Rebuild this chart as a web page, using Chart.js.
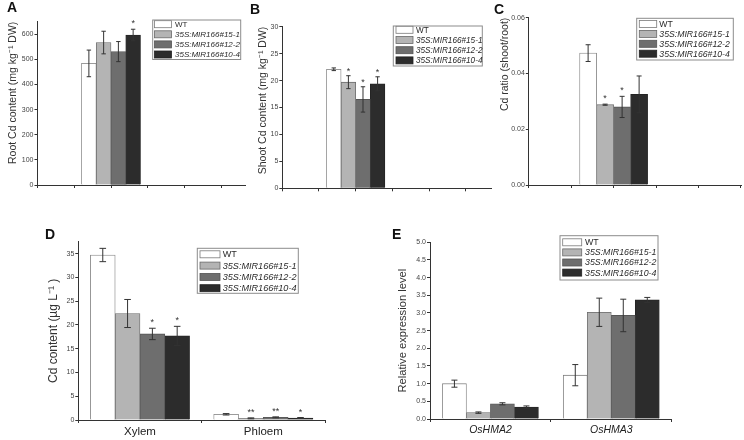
<!DOCTYPE html>
<html><head><meta charset="utf-8">
<script src="https://cdn.jsdelivr.net/npm/chart.js@4.4.1/dist/chart.umd.min.js"></script>
<style>
html,body{margin:0;padding:0;background:#fff;}
#wrap{position:relative;width:744px;height:440px;overflow:hidden;background:#fff;}
.panel{position:absolute;}
.panel canvas{display:block;}
.lbl{position:absolute;font-weight:bold;font-size:14px;line-height:1;color:#111;font-family:"Liberation Sans",Arial,sans-serif;}
</style></head><body>
<div id="wrap">
  <div class="panel" style="left:0;top:0;width:250px;height:215px"><canvas id="cA" width="250" height="215"></canvas></div>
  <div class="panel" style="left:250px;top:0;width:250px;height:215px"><canvas id="cB" width="250" height="215"></canvas></div>
  <div class="panel" style="left:496px;top:0;width:248px;height:215px"><canvas id="cC" width="248" height="215"></canvas></div>
  <div class="panel" style="left:0;top:215px;width:370px;height:225px"><canvas id="cD" width="370" height="225"></canvas></div>
  <div class="panel" style="left:370px;top:215px;width:374px;height:225px"><canvas id="cE" width="374" height="225"></canvas></div>
  <div class="lbl" style="left:7px;top:0px">A</div>
  <div class="lbl" style="left:250px;top:1.5px">B</div>
  <div class="lbl" style="left:494px;top:1.5px">C</div>
  <div class="lbl" style="left:45px;top:226.5px">D</div>
  <div class="lbl" style="left:392px;top:226.5px">E</div>
</div>
<script>
// ---------- data ----------
const seriesLabels = ['WT', '35S:MIR166#15-1', '35S:MIR166#12-2', '35S:MIR166#10-4'];
const singleGroupX = 1;

// Panel A: root Cd content (mg kg-1 DW)
const rootCd    = [484, 567, 531, 597];
const rootCdErr = [53, 45, 40, 23];
const rootCdSig = ['', '', '', '*'];

// Panel B: shoot Cd content (mg kg-1 DW)
const shootCd    = [22.1, 19.7, 16.5, 19.4];
const shootCdErr = [0.25, 1.2, 2.35, 1.3];
const shootCdSig = ['', '*', '*', '*'];

// Panel C: Cd ratio (shoot/root)
const cdRatio    = [0.0473, 0.0288, 0.0280, 0.0325];
const cdRatioErr = [0.0030, 0.0002, 0.0038, 0.0066];
const cdRatioSig = ['', '*', '*', ''];

// Panel D: Cd content (ug L-1) in xylem / phloem sap
const tissues = ['Xylem', 'Phloem'];
const sapWT    = [34.7, 1.2];   const sapWTErr    = [1.4, 0.15]; const sapWTSig    = ['', ''];
const sap15_1  = [22.4, 0.35];  const sap15_1Err  = [2.95, 0.1]; const sap15_1Sig  = ['', '**'];
const sap12_2  = [18.1, 0.56];  const sap12_2Err  = [1.2, 0.1];  const sap12_2Sig  = ['*', '**'];
const sap10_4  = [17.7, 0.42];  const sap10_4Err  = [2.0, 0.1];  const sap10_4Sig  = ['*', '*'];

// Panel E: relative expression level
const genes = ['OsHMA2', 'OsHMA3'];
const exWT    = [1.00, 1.24]; const exWTErr    = [0.10, 0.30];
const ex15_1  = [0.18, 3.02]; const ex15_1Err  = [0.02, 0.40];
const ex12_2  = [0.43, 2.93]; const ex12_2Err  = [0.03, 0.46];
const ex10_4  = [0.34, 3.37]; const ex10_4Err  = [0.03, 0.07];

// ---------- styles ----------
const FONT = '"Liberation Sans", Arial, sans-serif';
Chart.defaults.font.family = FONT;
const fills   = ['#ffffff', '#b4b4b4', '#6e6e6e', '#2c2c2c'];
const borders = ['#7a7a7a', '#6a6a6a', '#555555', '#222222'];

const errorBars = {
  id: 'errorBars',
  afterDatasetsDraw(chart, args, o) {
    const ctx = chart.ctx, ys = chart.scales.y;
    ctx.save();
    chart.data.datasets.forEach((ds, di) => {
      const meta = chart.getDatasetMeta(di);
      meta.data.forEach((el, i) => {
        const raw = ds.data[i];
        const v = (typeof raw === 'object') ? raw.y : raw;
        const e = ds.errors[i];
        const yt = ys.getPixelForValue(v + e), yb = ys.getPixelForValue(v - e);
        const cw = o.cap;
        ctx.strokeStyle = '#333'; ctx.lineWidth = 1;
        ctx.beginPath();
        ctx.moveTo(el.x, yt); ctx.lineTo(el.x, yb);
        ctx.moveTo(el.x - cw, yt); ctx.lineTo(el.x + cw, yt);
        ctx.moveTo(el.x - cw, yb); ctx.lineTo(el.x + cw, yb);
        ctx.stroke();
        const s = ds.sig ? ds.sig[i] : '';
        if (s) {
          ctx.fillStyle = '#333';
          ctx.font = o.starSize + 'px ' + FONT;
          ctx.textAlign = 'center'; ctx.textBaseline = 'alphabetic';
          ctx.fillText(s, el.x, yt - o.starGap);
        }
      });
    });
    ctx.restore();
  }
};

const boxLegend = {
  id: 'boxLegend',
  afterDatasetsDraw(chart, args, o) {
    const ctx = chart.ctx;
    ctx.save();
    const [bx, by, bw, bh] = o.box;
    ctx.strokeStyle = '#8c8c8c'; ctx.lineWidth = 1;
    ctx.strokeRect(bx, by, bw, bh);
    chart.data.datasets.forEach((ds, i) => {
      const cy = o.row0 + i * o.rowStep;
      ctx.fillStyle = ds.backgroundColor;
      ctx.fillRect(o.swX, cy - o.swH / 2, o.swW, o.swH);
      ctx.strokeStyle = ds.borderColor; ctx.lineWidth = 0.8;
      ctx.strokeRect(o.swX, cy - o.swH / 2, o.swW, o.swH);
      ctx.fillStyle = '#2a2a2a';
      ctx.font = (i > 0 ? 'italic ' : '') + o.fontSize + 'px ' + FONT;
      ctx.textAlign = 'left'; ctx.textBaseline = 'middle';
      ctx.fillText(ds.label, o.textX, cy + 0.5);
    });
    ctx.restore();
  }
};

function singleGroupDatasets(vals, errs, sigs) {
  return seriesLabels.map((lab, i) => ({
    label: lab,
    data: [{ x: singleGroupX, y: vals[i] }],
    errors: [errs[i]],
    sig: [sigs[i]],
    backgroundColor: fills[i],
    borderColor: borders[i],
    borderWidth: 0.8
  }));
}
function multiGroupDatasets(valsList, errsList, sigsList) {
  return seriesLabels.map((lab, i) => ({
    label: lab,
    data: valsList[i],
    errors: errsList[i],
    sig: sigsList ? sigsList[i] : null,
    backgroundColor: fills[i],
    borderColor: borders[i],
    borderWidth: 0.8
  }));
}

function yAxis(o) {
  return {
    type: 'linear', min: 0, max: o.max, position: 'left',
    grid: { display: true, drawOnChartArea: false, drawTicks: true, tickLength: 3, color: '#333' },
    border: { display: true, color: '#333', width: 1 },
    ticks: { stepSize: o.step, includeBounds: false, font: { size: 7 }, color: '#444', padding: 1,
             callback: o.fmt || (v => v) },
    title: { display: true, text: o.title, font: { size: o.titleSize }, color: '#333', align: o.align,
             padding: { top: o.titlePad, bottom: 0 } },
    afterFit: s => { s.width = o.width; }
  };
}
function xLinear(max, h) {
  return {
    type: 'linear', min: 0, max: max, offset: false,
    grid: { display: true, drawOnChartArea: false, drawTicks: true, tickLength: 3, color: '#333', offset: false },
    border: { display: true, color: '#333', width: 1 },
    ticks: { stepSize: 0.5, includeBounds: false, autoSkip: false, callback: () => '' },
    afterFit: s => { s.height = h; }
  };
}
function xCategory(h, italic, size) {
  return {
    type: 'category', offset: true,
    grid: { display: true, drawOnChartArea: false, drawTicks: true, tickLength: 3, color: '#333', offset: true },
    border: { display: true, color: '#333', width: 1 },
    ticks: { font: { size: size, style: italic ? 'italic' : 'normal' }, color: '#222', padding: 2, autoSkip: false, maxRotation: 0 },
    afterFit: s => { s.height = h; }
  };
}
function baseOptions(pad, scales, legendOpts, bar, cap, starSize, starGap) {
  return {
    responsive: false, animation: false,
    layout: { padding: pad },
    datasets: { bar: { barThickness: bar, grouped: true } },
    scales: scales,
    plugins: {
      legend: { display: false }, tooltip: { enabled: false },
      errorBars: { cap: cap, starSize: starSize, starGap: starGap },
      boxLegend: legendOpts
    }
  };
}

// Panel A
new Chart(document.getElementById('cA'), {
  type: 'bar',
  data: { datasets: singleGroupDatasets(rootCd, rootCdErr, rootCdSig) },
  options: baseOptions({ left: 0, right: 5, top: 21.7, bottom: 0 }, {
    x: xLinear(2.823, 30),
    y: yAxis({ max: 650, step: 100, title: 'Root Cd content (mg kg\u207B\u00B9 DW)', titleSize: 10.5, align: 'end', titlePad: 7, width: 37.5 })
  }, { box: [152.7, 20, 88, 39.5], swX: 154.5, swW: 17, swH: 7, row0: 24.2, rowStep: 10.1, textX: 175, fontSize: 8 },
  14.75, 2.2, 9, 3),
  plugins: [errorBars, boxLegend]
});

// Panel B
new Chart(document.getElementById('cB'), {
  type: 'bar',
  data: { datasets: singleGroupDatasets(shootCd, shootCdErr, shootCdSig) },
  options: baseOptions({ left: 0, right: 8.3, top: 26.7, bottom: 0 }, {
    x: xLinear(2.853, 26.7),
    y: yAxis({ max: 30, step: 5, title: 'Shoot Cd content (mg kg\u207B\u00B9 DW)', titleSize: 10.5, align: 'end', titlePad: 7, width: 32.3 })
  }, { box: [143.3, 26, 89, 40], swX: 146, swW: 17, swH: 7, row0: 29.8, rowStep: 10.2, textX: 166, fontSize: 8.2 },
  14.6, 2.2, 9, 2),
  plugins: [errorBars, boxLegend]
});

// Panel C
new Chart(document.getElementById('cC'), {
  type: 'bar',
  data: { datasets: singleGroupDatasets(cdRatio, cdRatioErr, cdRatioSig) },
  options: baseOptions({ left: 0, right: 2.3, top: 17.7, bottom: 0 }, {
    x: xLinear(2.51, 30),
    y: yAxis({ max: 0.06, step: 0.02, fmt: v => v.toFixed(2), title: 'Cd ratio (shoot/root)', titleSize: 10.5, align: 'end', titlePad: 2.7, width: 32.8 })
  }, { box: [140.7, 18.3, 96.6, 41.7], swX: 143.3, swW: 17.4, swH: 7, row0: 24, rowStep: 9.9, textX: 163.3, fontSize: 8.7 },
  17, 2.5, 9, 3),
  plugins: [errorBars, boxLegend]
});

// Panel D
new Chart(document.getElementById('cD'), {
  type: 'bar',
  data: { labels: tissues, datasets: multiGroupDatasets(
    [sapWT, sap15_1, sap12_2, sap10_4],
    [sapWTErr, sap15_1Err, sap12_2Err, sap10_4Err],
    [sapWTSig, sap15_1Sig, sap12_2Sig, sap10_4Sig]) },
  options: baseOptions({ left: 0, right: 45, top: 26.7, bottom: 0 }, {
    x: xCategory(20, false, 11.5),
    y: yAxis({ max: 37.5, step: 5, title: 'Cd content (\u00B5g L\u207B\u00B9 )', titleSize: 12, align: 'center', titlePad: 46, width: 78.3 })
  }, { box: [197.3, 33.3, 101, 45], swX: 200, swW: 20, swH: 7, row0: 39.3, rowStep: 11.3, textX: 222.7, fontSize: 9.1 },
  24.8, 3.3, 9, 3),
  plugins: [errorBars, boxLegend]
});

// Panel E
new Chart(document.getElementById('cE'), {
  type: 'bar',
  data: { labels: genes, datasets: multiGroupDatasets(
    [exWT, ex15_1, ex12_2, ex10_4],
    [exWTErr, ex15_1Err, ex12_2Err, ex10_4Err], null) },
  options: baseOptions({ left: 0, right: 72.3, top: 27.3, bottom: 0 }, {
    x: xCategory(21, true, 10.5),
    y: yAxis({ max: 5, step: 0.5, fmt: v => v.toFixed(1), title: 'Relative expression level', titleSize: 11.2, align: 'center', titlePad: 26.6, width: 60 })
  }, { box: [190, 20.7, 98, 44.3], swX: 192.7, swW: 19, swH: 7, row0: 27.3, rowStep: 10.1, textX: 215, fontSize: 8.8 },
  24, 3, 9, 3),
  plugins: [errorBars, boxLegend]
});
</script>
</body></html>
